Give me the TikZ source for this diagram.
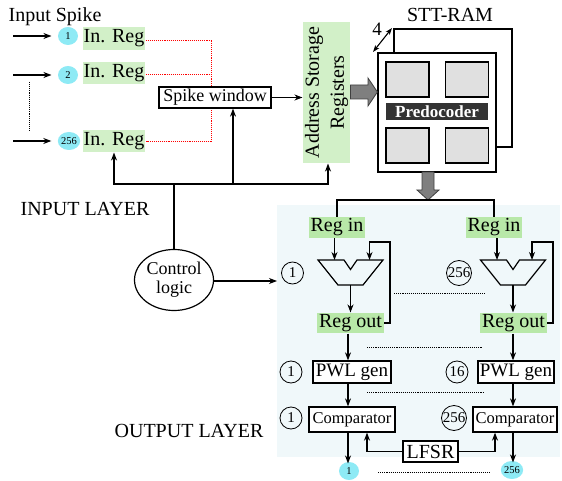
\documentclass[tikz,border=0pt]{standalone}
\usepackage{fontspec}
\setmainfont{Liberation Serif}
\usetikzlibrary{arrows.meta,shapes.geometric,calc}
\definecolor{cyanc}{HTML}{8EEAF5}
\definecolor{greenA}{HTML}{D2F0C8}
\definecolor{greenB}{HTML}{B8E8A8}
\definecolor{bgblue}{HTML}{F0F8FA}
\definecolor{sqgray}{HTML}{E0E0E0}
\definecolor{darkbar}{HTML}{333333}
\definecolor{fatgray}{HTML}{7F7F7F}
\definecolor{fatedge}{HTML}{404040}
\newcommand{\fs}[1]{\fontsize{#1}{#1}\selectfont}
\begin{document}
\begin{tikzpicture}[x=1pt,y=-1pt,
  >={Stealth[length=8pt,width=6pt,inset=2.5pt]},
  every path/.style={line width=1.1pt},
  every node/.style={inner sep=0pt, font=\fs{20}},
  inreg/.style={fill=greenA, minimum width=62pt, minimum height=23pt},
  rgreen/.style={fill=greenB, inner xsep=2pt, minimum height=20pt},
  cyanball/.style={ellipse, fill=cyanc, minimum width=20pt, minimum height=18pt, font=\fs{10.5}},
  boxed/.style={draw, line width=1.3pt, fill=white},
  numc/.style={circle, draw, line width=0.8pt, minimum size=22pt, font=\fs{15}},
  dots/.style={densely dotted, line width=0.8pt},
  reddots/.style={red, densely dotted, line width=1pt},
  fatarrow/.style={fill=fatgray, draw=fatedge, line width=0.8pt},
  sq/.style={draw, line width=1.2pt, fill=sqgray, minimum width=43pt, minimum height=35pt},
  mux/.pic={
    \draw[line width=1.2pt] (-32.5,-12.5) -- (-6.5,-12.5) -- (0,-3) -- (6.5,-12.5)
      -- (32.5,-12.5) -- (12.5,12.5) -- (-12.5,12.5) -- cycle;
    \coordinate (-inA) at (-16,-12.5);
    \coordinate (-inB) at (19,-12.5);
    \coordinate (-out) at (0,12.5);
  }
]
\useasboundingbox (0,0) rectangle (562,481);
\fill[bgblue] (277,205) rectangle (560,457);

% ---------------- input layer ----------------
\node[anchor=base] (title) at (55,21.5) {Input Spike};
\node (c1) [cyanball] at (68,36) {1};
\node (c2) [cyanball] at (68,75) {2};
\node (c3) [cyanball, minimum width=22pt] at (69,141) {256};
\coordinate (s1) at (13,36);
\coordinate (s2) at (13,75);
\coordinate (s3) at (13,141);
\draw[->] (s1) -- ([xshift=-6pt]c1.west);
\draw[->] (s2) -- ([xshift=-6pt]c2.west);
\draw[->] (s3) -- ([xshift=-6pt]c3.west);
\coordinate (dA) at (29,82);
\coordinate (dB) at (29,131);
\draw[dots] (dA) -- (dB);

\node (r1) [inreg] at (114,38.5) {In. Reg};
\node (r2) [inreg, minimum height=22pt] at (114,73) {In. Reg};
\node (r3) [inreg, minimum height=22pt] at (114,141) {In. Reg};

\coordinate (rv) at (211,41);
\draw[reddots] (r1.east |- rv) -- (rv) -- (rv |- 0,142) -- (r3.east |- 0,142);
\draw[reddots] (r2.east |- 0,75) -- (rv |- 0,75);

\node (sw) [boxed, minimum width=112pt, minimum height=21pt, font=\fs{18}] at (215,97.5) {Spike window};

\node (addr) [fill=greenA, minimum width=47pt, minimum height=141pt] at (326.5,92.5) {};
\node[rotate=90, align=center, font=\fontsize{20}{25}\selectfont] (addrtxt) at (addr.center) {Address Storage\\Registers};
\draw[->] (sw.east) -- (sw.east -| addr.west);

% control logic
\node (ctl) [ellipse, draw, line width=1.2pt, minimum width=79pt, minimum height=61pt, align=center, font=\fontsize{18}{19}\selectfont] at (174,280) {Control\\logic};
\coordinate (bus) at (174,184);
\coordinate (swin) at (233,184);
\draw (ctl.north) -- (bus);
\draw[->] (bus) -| (r3.south);
\draw[->] (bus) -| ([xshift=1.5pt]addr.south);
\draw[->] (swin) -- (swin |- sw.south);
\node[anchor=base] (inl) at (85,215) {INPUT LAYER};

% ---------------- STT-RAM ----------------
\node (sttback) [draw, line width=1.2pt, fill=white, minimum width=118pt, minimum height=118pt] at (453,88) {};
\node (stt) [draw, line width=1.2pt, fill=white, minimum width=118pt, minimum height=119pt] at (437,112.5) {};
\node (q1) [sq] at (407.5,79.5) {};
\node (q2) [sq] at (467,79.5) {};
\node (q3) [sq] at (407.5,145.5) {};
\node (q4) [sq] at (467,145.5) {};
\node (pre) [fill=darkbar, minimum width=102pt, minimum height=17pt, text=white, font=\fs{17}\bfseries] at (437,111.5) {Predocoder};
\node[anchor=base] (stttxt) at (450,22) {STT-RAM};
\node (four) [font=\fs{19}] at (377,29) {4};
\coordinate (fa) at (373,52);
\coordinate (fb) at (392,28);
\draw[<->, >={Stealth[length=7pt,width=5pt,inset=2pt]}] (fa) -- (fb);

% fat arrows
\draw[fatarrow] (addr.east |- 0,85) -- (368,85) -- (368,78) -- (stt.west |- 0,92) -- (368,106) -- (368,99) -- (addr.east |- 0,99) -- cycle;
\coordinate (split) at (428,200);
\draw[fatarrow] (422,172) -- (434,172) -- (434,190) -- (439,190) -- (split) -- (417,190) -- (422,190) -- cycle;

% ---------------- output layer ----------------
\node (ri1) [rgreen] at (337,227.5) {Reg in};
\node (ri2) [rgreen] at (494,227.5) {Reg in};
\draw (split) -| (ri1.north);
\draw (split) -| (ri2.north);

\pic (m1) at (350.5,272.5) {mux};
\pic (m2) at (513,272.5) {mux};

\node (ro1) [rgreen] at (350.5,323) {Reg out};
\node (ro2) [rgreen] at (513.5,323) {Reg out};

\draw[->] (m1-inA |- ri1.south) -- (m1-inA);
\draw[->] (m2-inA |- ri2.south) -- (m2-inA);
\coordinate (loop1) at (390,242);
\coordinate (loop2) at (553,242);
\draw[->] (ro1.east) -| (loop1) -| (m1-inB);
\draw[->] (ro2.east) -| (loop2) -| (m2-inB);
\draw[->] (m1-out) -- (m1-out |- ro1.north);
\draw[->] (m2-out) -- (m2-out |- ro2.north);

\node (n1) [numc] at (292.5,273) {1};
\node (n256) [numc, minimum size=25pt] at (459,273) {256};
\coordinate (ctlend) at (277,281);
\draw[->] (ctl.east |- ctlend) -- (ctlend);

\coordinate (dm1) at (394,293);  \coordinate (dm2) at (485,293);
\coordinate (dr1) at (367,347);  \coordinate (dr2) at (482,347);
\coordinate (dp1) at (367,392);  \coordinate (dp2) at (483,392);
\coordinate (do1) at (378,472);  \coordinate (do2) at (490,472);
\draw[dots] (dm1) -- (dm2);
\draw[dots] (dr1) -- (dr2);
\draw[dots] (dp1) -- (dp2);
\draw[dots] (do1) -- (do2);

\node (p1) [boxed, minimum width=78pt, minimum height=22pt, font=\fs{19}] at (352,372) {PWL gen};
\node (p2) [boxed, minimum width=76pt, minimum height=22pt, font=\fs{19}] at (516,372) {PWL gen};
\node (k1) [boxed, minimum width=86pt, minimum height=25pt, font=\fs{16.5}] at (352,419.5) {Comparator};
\node (k2) [boxed, minimum width=84pt, minimum height=25pt, font=\fs{16.5}] at (515,419.5) {Comparator};
\node (np1) [numc] at (291,372) {1};
\node (np16) [numc] at (457,372) {16};
\node (nk1) [numc] at (291,418) {1};
\node (nk256) [numc, minimum size=25pt] at (454,418) {256};

\coordinate (colA) at (348,0);
\coordinate (colB) at (513,0);
\draw[->] (ro1.south -| colA) -- (p1.north -| colA);
\draw[->] (ro2.south -| colB) -- (p2.north -| colB);
\draw[->] (p1.south -| colA) -- (k1.north -| colA);
\draw[->] (p2.south -| colB) -- (k2.north -| colB);

\node (o1) [cyanball] at (349,471) {1};
\node (o2) [cyanball, minimum width=22pt] at (512,470) {256};
\draw[->] (k1.south -| colA) -- ([yshift=-2pt]o1.north -| colA);
\draw[->] (k2.south -| colB) -- ([yshift=-2pt]o2.north -| colB);

\node (lfsr) [boxed, minimum width=55pt, minimum height=21pt] at (430.5,451.5) {LFSR};
\draw[->] (lfsr.west) -| ([xshift=15pt]k1.south);
\draw[->] (lfsr.east) -| ([xshift=-20pt]k2.south);

\node[anchor=base] (outl) at (189,437) {OUTPUT LAYER};
\end{tikzpicture}
\end{document}
